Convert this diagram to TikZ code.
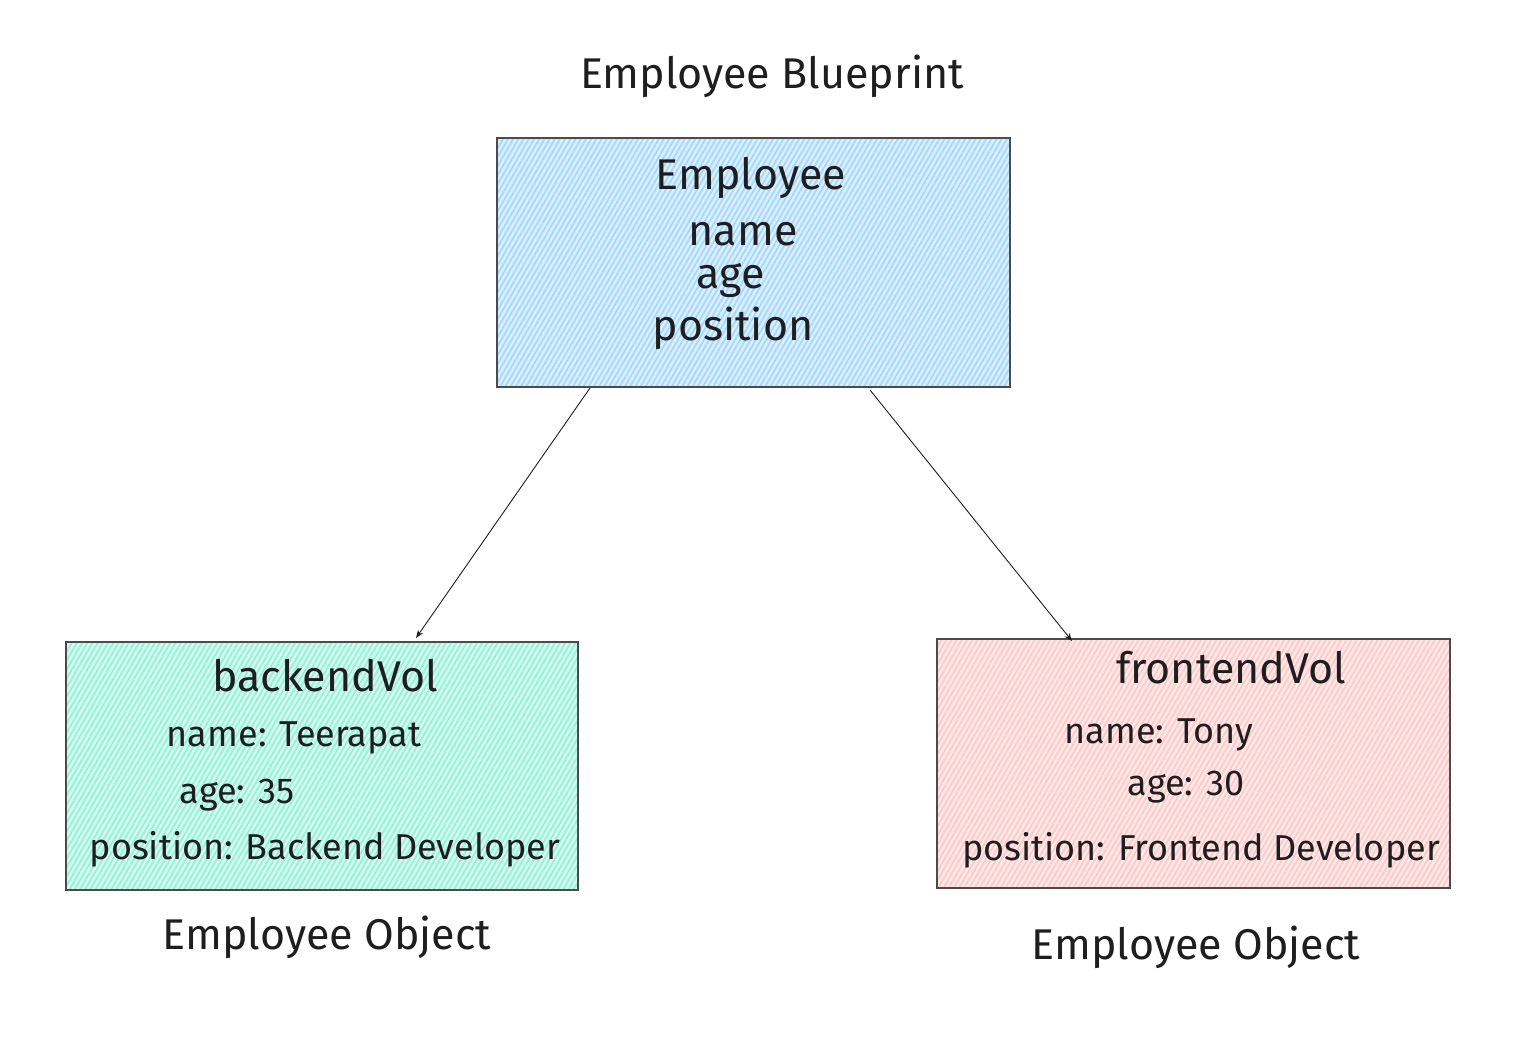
\documentclass[tikz,border=0pt]{standalone}
\usepackage{fontspec}
\setmainfont{Fira Sans}
\usetikzlibrary{patterns.meta,arrows.meta}
\definecolor{ink}{HTML}{1E1E1E}
\definecolor{blueh}{HTML}{A5D8FF}
\definecolor{greenh}{HTML}{96F2D7}
\definecolor{redh}{HTML}{FFC9C9}
\tikzset{
  hbox/.style={draw=ink!80, line width=1.2pt},
  hatch/.style={pattern={Lines[angle=60,distance=4.5pt,line width=1.8pt]}},
  big/.style={text=ink, font=\fontsize{43}{50}\selectfont, inner sep=0pt},
  small/.style={text=ink, font=\fontsize{36}{42}\selectfont, inner sep=0pt},
  link/.style={draw=ink, line width=0.9pt, -{Stealth[length=8pt,width=6pt]}},
}
\begin{document}
\begin{tikzpicture}[x=1pt,y=-1pt]
\useasboundingbox[fill=white] (0,0) rectangle (1518,1046);
% boxes
\fill[blueh!40] (497,138) rectangle (1010,387);
\fill[hatch, pattern color=blueh] (497,138) rectangle (1010,387);
\node[hbox, minimum width=513pt, minimum height=249pt, inner sep=0pt] (bp) at (753.5,262.5) {};
\fill[greenh!40] (66,642) rectangle (578,890);
\fill[hatch, pattern color=greenh] (66,642) rectangle (578,890);
\node[hbox, minimum width=512pt, minimum height=248pt, inner sep=0pt] (be) at (322,766) {};
\fill[redh!40] (937,639) rectangle (1450,888);
\fill[hatch, pattern color=redh] (937,639) rectangle (1450,888);
\node[hbox, minimum width=513pt, minimum height=249pt, inner sep=0pt] (fe) at (1193.5,763.5) {};
% texts
\node[big] (t0) at (772,76) {Employee Blueprint};
\node[big] (t1) at (751,178) {Employee};
\node[big] (t2) at (743,234) {name};
\node[big] (t3) at (731,280) {age};
\node[big] (t4) at (733,328) {position};
\node[big] (g0) at (325,676) {backendVol};
\node[small] (g1) at (294,738) {name: Teerapat};
\node[small] (g2) at (237,795) {age: 35};
\node[small] (g3) at (325,849) {position: Backend Developer};
\node[big] (g4) at (327,937) {Employee Object};
\node[big] (r0) at (1231,668) {frontendVol};
\node[small] (r1) at (1159,735) {name: Tony};
\node[small] (r2) at (1186,787) {age: 30};
\node[small] (r3) at (1201,850) {position: Frontend Developer};
\node[big] (r4) at (1196,947) {Employee Object};
% connectors
\coordinate (a1) at (590,388);
\coordinate (a2) at (416,638);
\coordinate (b1) at (870,390);
\coordinate (b2) at (1072,641);
\draw[link] (a1) -- (a2);
\draw[link] (b1) -- (b2);
\end{tikzpicture}
\end{document}
